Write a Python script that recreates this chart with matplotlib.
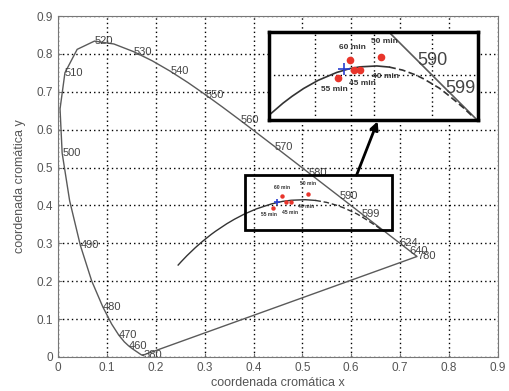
import numpy as np
import matplotlib
matplotlib.use("Agg")
import matplotlib.pyplot as plt
from matplotlib.patches import Rectangle

plt.rcParams["font.family"] = ["Liberation Sans", "DejaVu Sans"]

# CIE 1931 spectral locus (nm, x, y)
locus_wl = [380, 385, 390, 395, 400, 405, 410, 415, 420, 425, 430, 435, 440, 445,
            450, 455, 460, 465, 470, 475, 480, 485, 490, 495, 500, 505, 510, 515,
            520, 525, 530, 535, 540, 545, 550, 555, 560, 565, 570, 575, 580, 585,
            590, 595, 600, 605, 610, 615, 620, 625, 630, 635, 640, 645, 650, 660,
            680, 700, 780]
locus_x = [0.1741, 0.1740, 0.1738, 0.1736, 0.1733, 0.1730, 0.1726, 0.1721, 0.1714,
           0.1703, 0.1689, 0.1669, 0.1644, 0.1611, 0.1566, 0.1510, 0.1440, 0.1355,
           0.1241, 0.1096, 0.0913, 0.0687, 0.0454, 0.0235, 0.0082, 0.0039, 0.0139,
           0.0389, 0.0743, 0.1142, 0.1547, 0.1929, 0.2296, 0.2658, 0.3016, 0.3373,
           0.3731, 0.4087, 0.4441, 0.4788, 0.5125, 0.5448, 0.5752, 0.6029, 0.6270,
           0.6482, 0.6658, 0.6801, 0.6915, 0.7006, 0.7079, 0.7140, 0.7190, 0.7230,
           0.7260, 0.7300, 0.7334, 0.7347, 0.7347]
locus_y = [0.0050, 0.0050, 0.0049, 0.0049, 0.0048, 0.0048, 0.0048, 0.0048, 0.0051,
           0.0058, 0.0069, 0.0086, 0.0109, 0.0138, 0.0177, 0.0227, 0.0297, 0.0399,
           0.0578, 0.0868, 0.1327, 0.2007, 0.2950, 0.4127, 0.5384, 0.6548, 0.7502,
           0.8120, 0.8338, 0.8262, 0.8059, 0.7816, 0.7543, 0.7243, 0.6923, 0.6589,
           0.6245, 0.5896, 0.5547, 0.5202, 0.4866, 0.4544, 0.4242, 0.3965, 0.3725,
           0.3514, 0.3340, 0.3197, 0.3083, 0.2993, 0.2920, 0.2859, 0.2809, 0.2770,
           0.2740, 0.2700, 0.2666, 0.2653, 0.2653]

# wavelength labels along the locus
wl_labels = [380, 460, 470, 480, 490, 500, 510, 520, 530, 540, 550, 560, 570,
             580, 590, 599, 624, 640, 780]

# Planckian locus (K, x, y)
planck_T = [50000, 25000, 15000, 10000, 8000, 6500, 6000, 5000, 4500, 4000, 3500,
            3000, 2700, 2500, 2200, 2000, 1800, 1600, 1500, 1300, 1200, 1100,
            1000, 900]
planck_x = [0.2457, 0.2525, 0.2637, 0.2807, 0.2952, 0.3135, 0.3221, 0.3451, 0.3608,
            0.3805, 0.4053, 0.4369, 0.4593, 0.4770, 0.5055, 0.5267, 0.5496, 0.5720,
            0.5857, 0.6117, 0.6251, 0.6388, 0.6528, 0.6670]
planck_y = [0.2427, 0.2523, 0.2674, 0.2884, 0.3048, 0.3237, 0.3318, 0.3516, 0.3635,
            0.3768, 0.3907, 0.4041, 0.4107, 0.4137, 0.4152, 0.4133, 0.4081, 0.3998,
            0.3931, 0.3777, 0.3674, 0.3562, 0.3444, 0.3310]
dash_from_T = 2000

# measured samples
sample_labels = ["60 min", "55 min", "50 min", "45 min", "40 min"]
sample_x = [0.459, 0.440, 0.512, 0.467, 0.477]
sample_y = [0.425, 0.394, 0.431, 0.409, 0.409]
ref_x = [0.449]
ref_y = [0.410]

# label offsets in points (inset / small box)
inset_off = [(2, 9), (-3, -8), (3, 11), (6, -10), (18, -5)]
box_off = [(0, 6), (-3, -5), (0, 7), (3, -7.5), (11, -3)]

solid = [i for i, t in enumerate(planck_T) if t >= dash_from_T]
dashed = [i for i, t in enumerate(planck_T) if t <= dash_from_T]
pxs = np.array(planck_x)
pys = np.array(planck_y)

line_col = "#5a5a5a"
dot_col = "#e8352b"

fig = plt.figure(figsize=(5.1, 3.91), dpi=100)
ax = fig.add_axes([0.114, 0.087, 0.862, 0.872])


def draw_content(a, lw, fs_wl, wls, dot_ms, plus_ms, fs_min, offs):
    a.plot(locus_x + [locus_x[0]], locus_y + [locus_y[0]], color=line_col, lw=lw)
    a.plot(pxs[solid], pys[solid], color="#333333", lw=lw)
    a.plot(pxs[dashed], pys[dashed], color="#333333", lw=lw, ls=(0, (4, 2)))
    for w in wls:
        lx = np.interp(w, locus_wl, locus_x)
        ly = np.interp(w, locus_wl, locus_y)
        a.text(lx, ly, str(w), fontsize=fs_wl, color="#444444",
               ha="left", va="center", clip_on=True)
    a.plot(sample_x, sample_y, "o", color=dot_col, ms=dot_ms, mec="none", zorder=5)
    a.plot(ref_x, ref_y, "+", color="#2a3fd0", ms=plus_ms, mew=1.2, zorder=6)
    for lab, sx, sy, off in zip(sample_labels, sample_x, sample_y, offs):
        a.annotate(lab, (sx, sy), xytext=off, textcoords="offset points",
                   fontsize=fs_min, ha="center", va="center", color="#333333",
                   fontweight="bold", zorder=7)


draw_content(ax, 1.0, 8, wl_labels, 3.2, 4, 3.6, box_off)

ax.set_xlim(0, 0.9)
ax.set_ylim(0, 0.9)
ticks = np.round(np.arange(0, 0.91, 0.1), 1)
ax.set_xticks(ticks)
ax.set_yticks(ticks)
ax.set_xticklabels(["0"] + [f"{t:g}" for t in ticks[1:]])
ax.set_yticklabels(["0"] + [f"{t:g}" for t in ticks[1:]])
ax.tick_params(direction="in", length=3, colors="#777777", labelcolor="#555555",
               labelsize=8.5)
ax.grid(True, color="black", ls=(0, (1, 2.2)), lw=1.0)
for s in ax.spines.values():
    s.set_color("#777777")
ax.set_xlabel("coordenada cromática x", fontsize=9, color="#555555", labelpad=2)
ax.set_ylabel("coordenada cromática y", fontsize=9, color="#555555", labelpad=8)

# small box marking the zoomed region
ax.add_patch(Rectangle((0.382, 0.335), 0.301, 0.145, fill=False, ec="black",
                       lw=2, zorder=8))
ax.annotate("", xy=(0.654, 0.622), xytext=(0.611, 0.480),
            arrowprops=dict(arrowstyle="-|>", color="black", lw=2,
                            mutation_scale=12, shrinkA=0, shrinkB=0), zorder=9)

# zoomed inset
axins = fig.add_axes([0.527, 0.693, 0.41, 0.225])
axins.set_facecolor("white")
draw_content(axins, 1.2, 13, [590, 599], 5.5, 8, 6, inset_off)
axins.set_xlim(0.321, 0.678)
axins.set_ylim(0.323, 0.473)
for gx in [0.4, 0.462, 0.5, 0.6]:
    axins.axvline(gx, color="black", ls=(0, (1, 2.2)), lw=1.0, zorder=0)
axins.axhline(0.4, color="black", ls=(0, (1, 2.2)), lw=1.0, zorder=0)
axins.set_xticks([])
axins.set_yticks([])
for s in axins.spines.values():
    s.set_color("black")
    s.set_linewidth(2.5)

fig.savefig("out.png", dpi=100)
